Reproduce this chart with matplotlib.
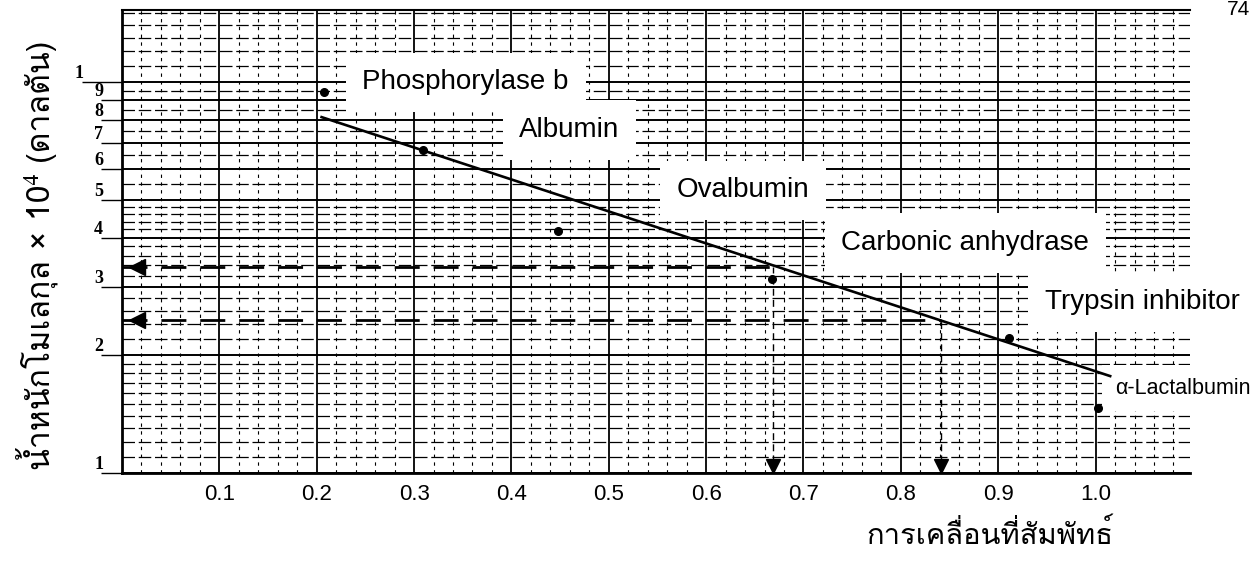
import numpy as np
import matplotlib
matplotlib.use("Agg")
import matplotlib.pyplot as plt
from matplotlib.ticker import FixedLocator, FixedFormatter, NullFormatter
from matplotlib.transforms import offset_copy

# standard proteins: relative mobility vs molecular weight (x 10^4 Da)
proteins = ["Phosphorylase b", "Albumin", "Ovalbumin",
            "Carbonic anhydrase", "Trypsin inhibitor", "α-Lactalbumin"]
rf = [0.207, 0.309, 0.448, 0.668, 0.911, 1.002]
mw = [9.43, 6.70, 4.16, 3.13, 2.21, 1.47]

# hand drawn standard line
line_rf = [0.205, 1.015]
line_mw = [8.14, 1.77]

# unknown samples
unknown_rf = [0.669, 0.841]
unknown_mw = [3.36, 2.47]

xticks = [0.1, 0.2, 0.3, 0.4, 0.5, 0.6, 0.7, 0.8, 0.9, 1.0]
xtick_labels = ["0.1", "0.2", "0.3", "0.4", "0.5", "0.6", "0.7", "0.8", "0.9", "1.0"]
yticks = [1, 2, 3, 4, 5, 6, 7, 8, 9, 10]
ytick_labels = ["1", "2", "3", "4", "5", "6", "7", "8", "9", "1"]

ylabel = "น้ำหนักโมเลกุล × 10⁴ (ดาลตัน)"
xlabel = "การเคลื่อนที่สัมพัทธ์"

thai = ["Loma", "FreeSerif", "DejaVu Sans"]

fig = plt.figure(figsize=(12.57, 5.62), dpi=100)
ax = fig.add_axes([122 / 1257, 1 - 473 / 562, 1068 / 1257, 463 / 562])
ax.set_yscale("log")
ax.set_xlim(0, 1.097)
ax.set_ylim(1, 15.3)

# graph paper grid
ax.xaxis.set_major_locator(FixedLocator(xticks))
ax.xaxis.set_major_formatter(FixedFormatter(xtick_labels))
ax.xaxis.set_minor_locator(FixedLocator(np.arange(0.02, 1.1, 0.02)))
ax.yaxis.set_major_locator(FixedLocator(yticks))
ax.yaxis.set_major_formatter(FixedFormatter(ytick_labels))
minor_y = np.concatenate([np.arange(1.1, 1.95, 0.1), np.arange(2.2, 4.9, 0.2),
                          np.arange(5.5, 9.9, 0.5), [11, 12, 13, 14, 15]])
ax.yaxis.set_minor_locator(FixedLocator(minor_y))
ax.yaxis.set_minor_formatter(NullFormatter())

ax.grid(which="major", axis="x", color="black", lw=1.3)
ax.grid(which="minor", axis="x", color="black", lw=0.8, dashes=(3, 4))
ax.grid(which="major", axis="y", color="black", lw=1.4)
ax.grid(which="minor", axis="y", color="black", lw=0.9, dashes=(10, 3))
ax.set_axisbelow(True)

ax.spines["right"].set_visible(False)
ax.spines["left"].set_linewidth(2)
ax.spines["bottom"].set_linewidth(2)
ax.spines["top"].set_linewidth(1.5)

ax.tick_params(axis="x", which="both", length=0, pad=8)
ax.tick_params(axis="y", which="minor", length=0)
ax.tick_params(axis="y", which="major", length=15, width=1, pad=-1.5)
for lab in ax.get_xticklabels():
    lab.set_fontfamily("Liberation Sans")
    lab.set_fontsize(16)
for lab in ax.get_yticklabels():
    lab.set_fontfamily("Liberation Serif")
    lab.set_fontweight("bold")
    lab.set_fontsize(13)
    lab.set_verticalalignment("bottom")
ax.yaxis.get_major_ticks()[-1]._apply_params(size=29, pad=-1.5)

# standard line and points
ax.plot(line_rf, line_mw, color="black", lw=1.9, zorder=4)
ax.plot(rf, mw, "o", color="black", ms=5.5, zorder=5)

# read-off of unknowns
down = offset_copy(ax.transData, fig=fig, y=7, units="dots")
for x, y in zip(unknown_rf, unknown_mw):
    ax.plot([0, x], [y, y], color="black", lw=2, dashes=(9, 5), zorder=3)
    ax.plot([x, x], [1, y], color="black", lw=1, dashes=(5, 3), zorder=3)
    ax.plot(0.015, y, marker="<", color="black", ms=11, zorder=5, clip_on=False)
    ax.plot(x, 1, marker="v", color="black", ms=10, zorder=5, clip_on=False,
            transform=down)

# protein labels on white patches
label_pos = [(0.247, 10.0), (0.408, 7.54), (0.570, 5.29),
             (0.739, 3.88), (0.948, 2.74), (1.020, 1.65)]
label_size = [20, 20, 20, 20, 20, 15.5]
for name, (lx, ly), fs in zip(proteins, label_pos, label_size):
    ax.text(lx, ly, name, ha="left", va="center", fontsize=fs,
            family="Liberation Sans", zorder=3, clip_on=False,
            bbox=dict(facecolor="white", edgecolor="none", boxstyle="square,pad=0.6"))

ax.set_ylabel(ylabel, family=thai, fontsize=23)
ax.yaxis.set_label_coords(-0.06, 0.47)
ax.set_xlabel(xlabel, family=thai, fontsize=21)
ax.xaxis.set_label_coords(0.813, -0.10)

fig.text(0.985, 1.0, "74", ha="center", va="top", fontsize=15,
         family="Liberation Sans")

fig.savefig("out.png", dpi=100)
